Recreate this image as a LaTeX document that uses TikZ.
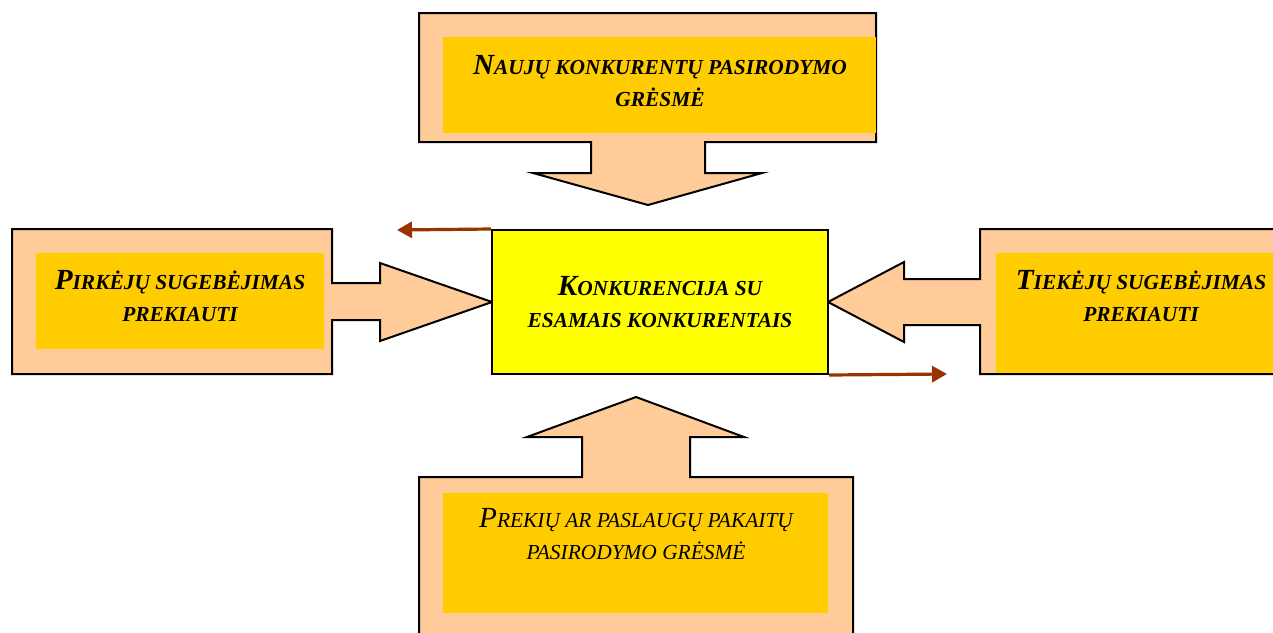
\documentclass[tikz,border=0pt]{standalone}
\usepackage{fontspec}
\setmainfont{Liberation Serif}
\usetikzlibrary{arrows.meta}

\definecolor{peach}{HTML}{FFCC99}
\definecolor{gold}{HTML}{FFCC00}
\definecolor{lemon}{HTML}{FFFF00}
\definecolor{rust}{HTML}{993300}
\newcommand{\capsone}[1]{{\fontsize{14.6}{16}\selectfont #1}}

\begin{document}
\begin{tikzpicture}[
    x=0.5pt,
    y=-0.5pt,
    callout/.style={fill=peach, draw=black, line width=1pt, line join=miter},
    panel/.style={fill=gold},
    caption/.style={align=center, font=\fontsize{10.7}{16}\selectfont\bfseries\itshape},
    plain caption/.style={align=center, font=\fontsize{10.7}{16}\selectfont\itshape},
    rival/.style={draw=black, line width=1pt, fill=lemon, minimum width=168pt, minimum height=72pt, caption},
    push/.style={-{Triangle[length=7.5pt,width=8pt]}, draw=rust, line width=1.6pt},
]

    \useasboundingbox (0,0) rectangle (1273,632);

    % callout shapes
    \path[callout] (419,13) -- (876,13) -- (876,142) -- (705,142) -- (705,173) -- (762,173)
        -- (648,205) -- (533,173) -- (591,173) -- (591,142) -- (419,142) -- cycle;
    \path[callout] (12,229) -- (332,229) -- (332,283) -- (380,283) -- (380,263) -- (492,302)
        -- (380,341) -- (380,320) -- (332,320) -- (332,374) -- (12,374) -- cycle;
    \path[callout] (1285,229) -- (980,229) -- (980,279) -- (904,279) -- (904,262) -- (828,302)
        -- (904,342) -- (904,325) -- (980,325) -- (980,374) -- (1285,374) -- cycle;
    \path[callout] (419,640) -- (419,477) -- (582,477) -- (582,437) -- (527,437) -- (636,397)
        -- (744,437) -- (690,437) -- (690,477) -- (853,477) -- (853,640) -- cycle;

    \fill[panel] (443,37) rectangle (876,133);
    \fill[panel] (36,253) rectangle (324,349);
    \fill[panel] (996,253) rectangle (1273,373);
    \fill[panel] (443,493) rectangle (828,613);

    % texts
    \node[caption]       (entrants)   at (660,81)  {\capsone{N}AUJŲ KONKURENTŲ PASIRODYMO\\GRĖSMĖ};
    \node[caption]       (buyers)     at (180,296) {\capsone{P}IRKĖJŲ SUGEBĖJIMAS\\PREKIAUTI};
    \node[caption]       (suppliers)  at (1141,296) {\capsone{T}IEKĖJŲ SUGEBĖJIMAS\\PREKIAUTI};
    \node[plain caption] (substitutes) at (636,534) {\capsone{P}REKIŲ AR PASLAUGŲ PAKAITŲ\\PASIRODYMO GRĖSMĖ};

    \node[rival] (core) at (660,302) {\capsone{K}ONKURENCIJA SU\\ESAMAIS KONKURENTAIS};

    \coordinate (leftend)  at (397,230);
    \coordinate (rightend) at (947,374);

    \draw[push] (core.north west) -- (leftend);
    \draw[push] (core.south east) -- (rightend);

\end{tikzpicture}
\end{document}
